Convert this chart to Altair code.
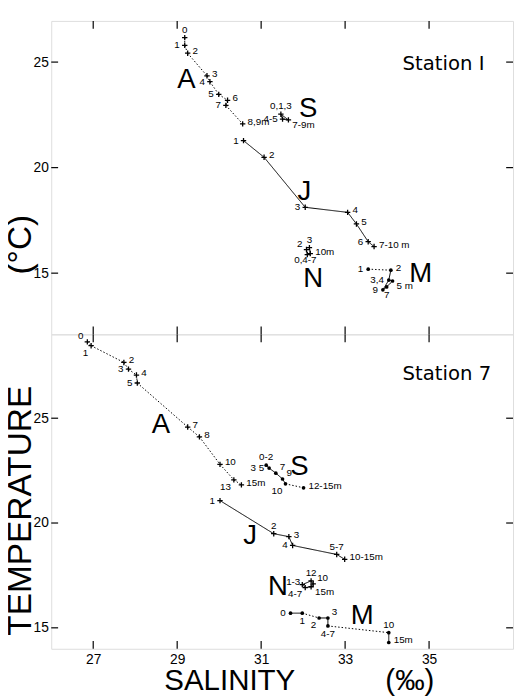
import altair as alt
import pandas as pd

X_DOMAIN = [26.0, 37.0]
X_TICKS = [27, 29, 31, 33, 35]
Y_TICKS = [15, 20, 25]
TOP_Y_DOMAIN = [12.1, 26.95]
BOT_Y_DOMAIN = [14.0, 29.0]

# ---------------- Station 1 ----------------
s1_group = ["A"] * 9 + ["S"] * 3 + ["J"] * 7 + ["N"] * 4 + ["M"] * 6
s1_label = ["0", "1", "2", "3", "4", "5", "6", "7", "8,9m",
            "0,1,3", "4-5", "7-9m",
            "1", "2", "3", "4", "5", "6", "7-10 m",
            "2", "3", "10m", "0,4-7",
            "1", "2", "3,4", "5 m", "7", "9"]
s1_sal = [29.18, 29.18, 29.25, 29.71, 29.78, 29.99, 30.20, 30.16, 30.56,
          31.47, 31.51, 31.65,
          30.58, 31.07, 32.05, 33.06, 33.27, 33.55, 33.69,
          32.08, 32.15, 32.17, 32.10,
          33.55, 34.09, 34.04, 34.13, 33.99, 33.90]
s1_temp = [26.16, 25.79, 25.42, 24.35, 24.07, 23.47, 23.19, 22.95, 22.07,
           22.53, 22.30, 22.26,
           21.28, 20.49, 18.12, 17.88, 17.33, 16.49, 16.26,
           16.12, 16.21, 15.93, 15.88,
           15.19, 15.14, 14.67, 14.63, 14.35, 14.21]
s1_side = ["t", "l", "r", "r", "l", "l", "r", "l", "r",
           "t", "l", "br",
           "l", "r", "l", "r", "r", "l", "r",
           "tl", "t", "r", "b2",
           "l", "r", "l", "br", "b", "l"]
s1_marker = ["+"] * 9 + ["+"] * 3 + ["+"] * 7 + ["+"] * 4 + ["o"] * 6
s1_chains = [
    ("A", ["0", "1", "2", "3", "4", "5", "6", "7", "8,9m"], "dotted"),
    ("S", ["0,1,3", "4-5", "7-9m", "0,1,3"], "solid"),
    ("J", ["1", "2", "3", "4", "5", "6", "7-10 m"], "solid"),
    ("N", ["2", "0,4-7", "10m", "3"], "solid"),
    ("M", ["1", "2"], "dotted"),
    ("M", ["2", "3,4", "5 m", "7", "9", "3,4"], "solid"),
]
s1_letters = ["A", "S", "J", "N", "M"]
s1_letter_sal = [29.22, 32.12, 32.03, 32.24, 34.80]
s1_letter_temp = [24.16, 22.77, 18.86, 14.72, 14.95]

# ---------------- Station 7 ----------------
s7_group = ["A"] * 11 + ["J"] * 6 + ["S"] * 6 + ["N"] * 5 + ["M"] * 7
s7_label = ["0", "1", "2", "3", "4", "5", "7", "8", "10", "13", "15m",
            "1", "2", "3", "4", "5-7", "10-15m",
            "0-2", "3 5", "7", "9", "10", "12-15m",
            "1-3", "12", "10", "15m", "4-7",
            "0", "1", "2", "3", "4-7", "10", "15m"]
s7_sal = [26.86, 26.95, 27.73, 27.84, 28.03, 28.05, 29.25, 29.53, 30.02, 30.35, 30.53,
          30.02, 31.30, 31.66, 31.75, 32.80, 32.99,
          31.12, 31.19, 31.35, 31.51, 31.58, 32.01,
          31.98, 32.19, 32.24, 32.19, 32.05,
          31.70, 31.98, 32.38, 32.59, 32.59, 34.04, 34.04]
s7_temp = [28.64, 28.46, 27.66, 27.34, 27.06, 26.68, 24.58, 24.11, 22.80, 22.06, 21.82,
           21.07, 19.49, 19.35, 18.93, 18.50, 18.27,
           22.76, 22.62, 22.38, 22.10, 21.87, 21.68,
           17.06, 17.24, 17.10, 16.96, 16.92,
           15.70, 15.70, 15.47, 15.47, 15.09, 14.77, 14.30]
s7_side = ["tl", "bl", "r", "l", "r", "l", "r", "r", "r", "bl", "r",
           "l", "t", "r", "l", "t", "r",
           "t", "l", "tr", "tr", "bl", "r",
           "ln", "t", "tr", "br", "bl",
           "l", "b", "bl", "tr", "b", "t", "r"]
s7_marker = ["+"] * 11 + ["+"] * 6 + ["o"] * 6 + ["+"] * 5 + ["o"] * 7
s7_chains = [
    ("A", ["0", "1", "2", "3", "4", "5", "7", "8", "10", "13", "15m"], "dotted"),
    ("J", ["1", "2", "3", "4", "5-7", "10-15m"], "solid"),
    ("S", ["0-2", "3 5", "7", "9", "10"], "solid"),
    ("S", ["10", "12-15m"], "dotted"),
    ("N", ["1-3", "12", "10", "15m", "4-7", "1-3"], "solid"),
    ("M", ["0", "1"], "solid"),
    ("M", ["1", "2"], "dotted"),
    ("M", ["2", "3", "4-7"], "solid"),
    ("M", ["4-7", "10"], "dotted"),
    ("M", ["10", "15m"], "solid"),
]
s7_letters = ["A", "S", "J", "N", "M"]
s7_letter_sal = [28.61, 31.91, 30.74, 31.40, 33.41]
s7_letter_temp = [24.67, 22.66, 19.39, 16.96, 15.56]

W = 470
H_TOP = 319
H_BOT = 320
NB = "\u00a0"

SIDES = {
    "r": dict(dx=5, dy=-2, align="left"),
    "l": dict(dx=-5, dy=0, align="right"),
    "ln": dict(dx=-2, dy=-3, align="right"),
    "t": dict(dx=0, dy=-8, align="center"),
    "b": dict(dx=0, dy=8, align="center"),
    "b2": dict(dx=-2, dy=6, align="center"),
    "tl": dict(dx=-4, dy=-6, align="right"),
    "tr": dict(dx=4, dy=-6, align="left"),
    "bl": dict(dx=-3, dy=7, align="right"),
    "br": dict(dx=4, dy=5, align="left"),
}
PLUS = "M-1,0L1,0M0,-1L0,1"


def panel(group, label, sal, temp, side, marker, chains, letters, lsal, ltemp,
          station, ydom, h, bottom):
    pts = pd.DataFrame(dict(group=group, label=label, sal=sal, temp=temp,
                            side=side, marker=marker))
    rows = []
    for g, seq, style in chains:
        sub = pts[pts.group == g].set_index("label")
        for a, b in zip(seq[:-1], seq[1:]):
            rows.append(dict(sal=sub.loc[a, "sal"], temp=sub.loc[a, "temp"],
                             sal2=sub.loc[b, "sal"], temp2=sub.loc[b, "temp"],
                             style=style))
    segs = pd.DataFrame(rows)

    if bottom:
        xaxis = alt.Axis(values=X_TICKS, ticks=False, domain=False, grid=False,
                         labelFontSize=14, labelPadding=4, labelFont="Liberation Sans",
                         title="SALINITY" + NB * 11 + "(‰)", titleFontSize=30,
                         titleFont="Liberation Sans", titleFontWeight="normal",
                         titleX=252, titleY=32, titleBaseline="middle", titleAlign="center")
        yaxis = alt.Axis(values=Y_TICKS, ticks=False, domain=False, grid=False,
                         labelFontSize=14, labelPadding=3, labelFont="Liberation Sans",
                         title="TEMPERATURE" + NB * 12 + "(°C)", titleFontSize=34,
                         titleFont="Liberation Sans", titleFontWeight="normal",
                         titleAngle=270, titleX=-31, titleY=92,
                         titleBaseline="middle", titleAlign="center")
    else:
        xaxis = alt.Axis(values=X_TICKS, ticks=False, domain=False, grid=False,
                         labels=False, title="")
        yaxis = alt.Axis(values=Y_TICKS, ticks=False, domain=False, grid=False,
                         labelFontSize=14, labelPadding=3, labelFont="Liberation Sans",
                         title="")
    xs = alt.Scale(domain=X_DOMAIN, nice=False, zero=False)
    ys = alt.Scale(domain=ydom, nice=False, zero=False)
    X = alt.X("sal:Q", scale=xs, axis=xaxis)
    Y = alt.Y("temp:Q", scale=ys, axis=yaxis)

    layers = []
    layers.append(alt.Chart(segs).mark_rule(color="black", strokeWidth=1).encode(
        x=X, y=Y, x2="sal2:Q", y2="temp2:Q",
        strokeDash=alt.StrokeDash("style:N", scale=alt.Scale(
            domain=["solid", "dotted"], range=[[1, 0], [1.5, 2]]), legend=None)))
    layers.append(alt.Chart(pts).transform_filter(alt.datum.marker == "+").mark_point(
        shape=PLUS, size=30, filled=False, color="black", strokeWidth=1.3,
        opacity=1).encode(x=X, y=Y))
    layers.append(alt.Chart(pts).transform_filter(alt.datum.marker == "o").mark_point(
        shape="circle", size=14, filled=True, color="black", opacity=1).encode(x=X, y=Y))
    for s, kw in SIDES.items():
        layers.append(alt.Chart(pts).transform_filter(alt.datum.side == s).mark_text(
            baseline="middle", fontSize=10, font="Liberation Sans", color="black", **kw
        ).encode(x=X, y=Y, text="label:N"))
    let = pd.DataFrame(dict(letter=letters, sal=lsal, temp=ltemp))
    layers.append(alt.Chart(let).mark_text(
        fontSize=28, font="Liberation Sans", color="black", baseline="middle"
    ).encode(x=X, y=Y, text="letter:N"))
    st = pd.DataFrame(dict(name=[station[0]], sal=[station[1]], temp=[station[2]]))
    layers.append(alt.Chart(st).mark_text(
        fontSize=20, font="DejaVu Sans", color="black", align="left", baseline="middle"
    ).encode(x=X, y=Y, text="name:N"))
    # inward ticks
    xt = pd.DataFrame(dict(sal=X_TICKS))
    yt = pd.DataFrame(dict(temp=Y_TICKS))
    layers.append(alt.Chart(yt).mark_rule(color="black", strokeWidth=1.2).encode(
        y=Y, x=alt.value(0), x2=alt.value(7)))
    layers.append(alt.Chart(yt).mark_rule(color="black", strokeWidth=1.2).encode(
        y=Y, x=alt.value(W - 7), x2=alt.value(W)))
    layers.append(alt.Chart(xt).mark_rule(color="black", strokeWidth=1.2).encode(
        x=X, y=alt.value(h - 8), y2=alt.value(h)))
    layers.append(alt.Chart(xt).mark_rule(color="black", strokeWidth=1.2).encode(
        x=X, y=alt.value(0), y2=alt.value(8)))
    return alt.layer(*layers).properties(width=W, height=h)


top = panel(s1_group, s1_label, s1_sal, s1_temp, s1_side, s1_marker, s1_chains,
            s1_letters, s1_letter_sal, s1_letter_temp, ("Station I", 34.37, 24.9),
            TOP_Y_DOMAIN, H_TOP, False)
bot = panel(s7_group, s7_label, s7_sal, s7_temp, s7_side, s7_marker, s7_chains,
            s7_letters, s7_letter_sal, s7_letter_temp, ("Station 7", 34.37, 27.1),
            BOT_Y_DOMAIN, H_BOT, True)

chart = alt.vconcat(top, bot, spacing=0, bounds="flush").properties(
    padding={"left": -5, "top": 5, "right": 0, "bottom": 0}
).configure_view(stroke="black", strokeWidth=2).configure(background="white")

chart.save("out.html", embed_options={"renderer": "svg", "actions": False})
